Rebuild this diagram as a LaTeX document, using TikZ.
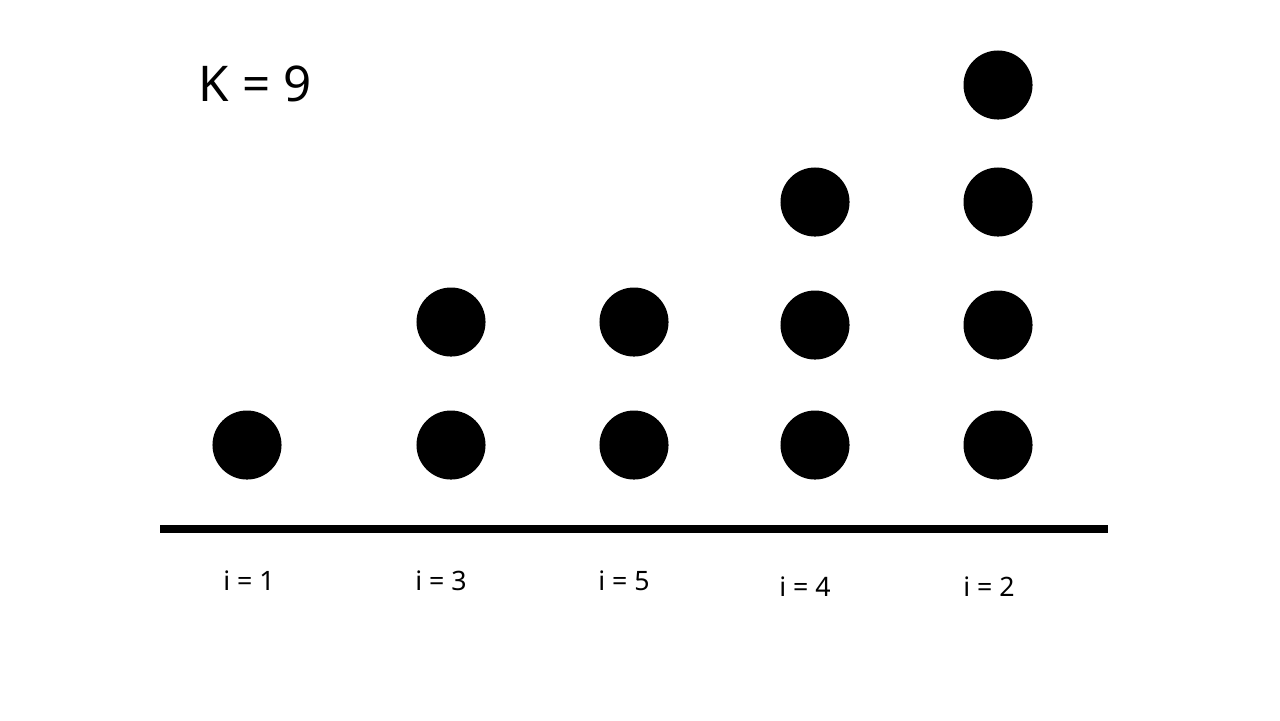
\documentclass[tikz,border=0pt]{standalone}
\usepackage{fontspec}
\setmainfont{Noto Sans}

\tikzset{dot/.style={circle, fill=black, minimum size=0.69cm, inner sep=0pt}}
\tikzset{lbl/.style={font=\fontsize{7.6}{9}\selectfont, inner sep=0pt}}

\begin{document}
\begin{tikzpicture}[x=0.01cm, y=-0.01cm]
			\useasboundingbox (0,0) rectangle (1280,720);
			% Title
			\node[font=\fontsize{14}{17}\selectfont, inner sep=0pt] (title) at (255,84) {K = 9};
			
			% Columns of dots
			\node[dot] (a1) at (247,445) {};
			
			\node[dot] (b1) at (451,445) {};
			\node[dot] (b2) at (451,322) {};
			
			\node[dot] (c1) at (634,445) {};
			\node[dot] (c2) at (634,322) {};
			
			\node[dot] (d1) at (815,445) {};
			\node[dot] (d2) at (815,325) {};
			\node[dot] (d3) at (815,202) {};
			
			\node[dot] (e1) at (998,445) {};
			\node[dot] (e2) at (998,325) {};
			\node[dot] (e3) at (998,202) {};
			\node[dot] (e4) at (998,85) {};
			
			% Base line
			\coordinate (left) at (160,529);
			\coordinate (right) at (1108,529);
			\draw[line width=2.3pt] (left) -- (right);
			
			% Labels
			\node[lbl] (la) at (249,581) {i = 1};
			\node[lbl] (lb) at (441,581) {i = 3};
			\node[lbl] (lc) at (624,581) {i = 5};
			\node[lbl] (ld) at (805,587) {i = 4};
			\node[lbl] (le) at (989,587) {i = 2};
		\end{tikzpicture}
\end{document}
